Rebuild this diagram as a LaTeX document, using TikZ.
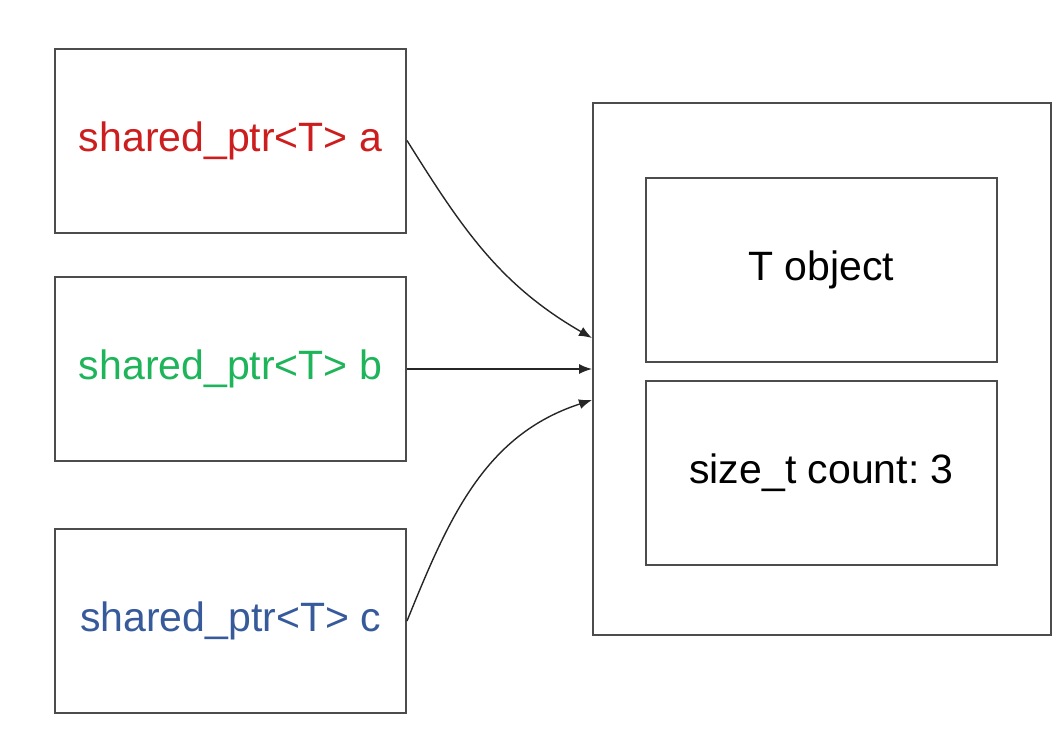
\documentclass[tikz,border=0pt]{standalone}
\usepackage{fontspec}
\setmainfont{Liberation Sans}
\usetikzlibrary{arrows.meta,calc}
\definecolor{ptrred}{RGB}{204,30,30}
\definecolor{ptrgreen}{RGB}{30,180,90}
\definecolor{ptrblue}{RGB}{55,90,155}
\tikzset{ref/.style={-{Latex[length=13pt,width=10pt]}, line width=1.4pt, draw=black!85},
  box/.style={draw=black!70, line width=2pt, minimum width=351pt, minimum height=184pt, inner sep=0pt,
    font=\fontsize{41}{49}\selectfont}}
\frenchspacing

\begin{document}
\begin{tikzpicture}[x=1pt,y=-1pt]
  \useasboundingbox (0,0) rectangle (1059,729);
  \node[box, text=ptrred] (a) at (230.5,140.5) {shared\_ptr<T> a};
  \node[box, text=ptrgreen] (b) at (230.5,369) {shared\_ptr<T> b};
  \node[box, text=ptrblue] (c) at (230.5,621) {shared\_ptr<T> c};
  \node[box, minimum width=458pt, minimum height=532pt] (blk) at (822,369) {};
  \node[box] (obj) at (821.5,270) {T object};
  \node[box] (cnt) at (821.5,473) {size\_t count: 3};
  \coordinate (ina) at ($(blk.west)+(0,-31)$);
  \coordinate (inb) at (blk.west);
  \coordinate (inc) at ($(blk.west)+(0,31)$);
  \draw[ref] (a.east) to[out=-58, in=150] (ina);
  \draw[ref] (b.east) -- (inb);
  \draw[ref] (c.east) to[out=68, in=198] (inc);
\end{tikzpicture}
\end{document}
